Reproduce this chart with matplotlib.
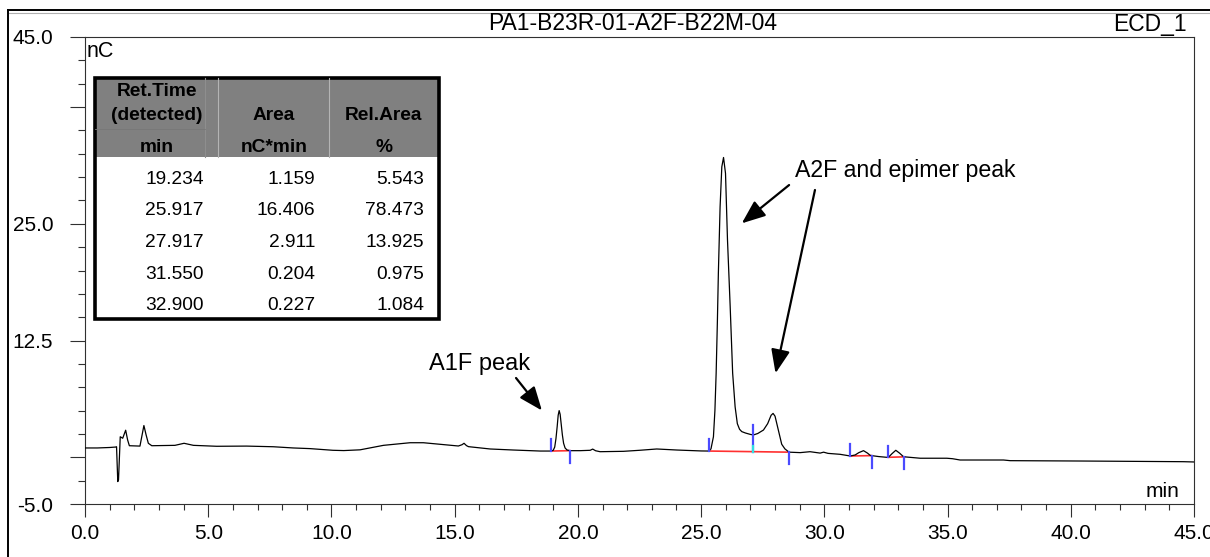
import matplotlib
matplotlib.use("Agg")
import matplotlib.pyplot as plt
from matplotlib.lines import Line2D
from matplotlib.patches import Rectangle
from matplotlib.ticker import FixedLocator, FixedFormatter, MultipleLocator

plt.rcParams['font.family'] = ['Liberation Sans', 'DejaVu Sans']

# ---------------- data ----------------
time_min = [0.0, 0.5, 1.0, 1.25, 1.28, 1.33, 1.36, 1.43, 1.53, 1.65, 1.73, 1.80,
            2.23, 2.33, 2.39, 2.48, 2.57, 2.71, 3.65, 4.02, 4.40, 5.34, 6.56, 7.64,
            8.45, 9.13, 9.80, 10.06, 10.50, 11.16, 12.11, 13.19, 13.73, 14.41, 15.15,
            15.30, 15.38, 15.48, 15.56, 16.44, 17.38, 18.47, 18.91,
            19.00, 19.06, 19.11, 19.16, 19.20, 19.24, 19.28, 19.32, 19.37, 19.42,
            19.48, 19.56, 19.68, 20.09, 20.50, 20.60, 20.72, 20.90, 21.85, 22.50,
            23.20, 24.01, 25.00, 25.31,
            25.40, 25.50, 25.56, 25.61, 25.66, 25.70, 25.77, 25.84, 25.91, 25.99,
            26.07, 26.18, 26.28, 26.38, 26.47, 26.56, 26.65, 26.80, 27.00, 27.12,
            27.30, 27.53, 27.70, 27.84, 27.92, 28.00, 28.10, 28.20, 28.27, 28.40,
            28.54, 28.57, 29.02, 29.15, 29.42, 29.83, 29.97, 30.15, 30.64, 31.05,
            31.25, 31.40, 31.59, 31.75, 31.86, 31.92, 32.20, 32.53, 32.60,
            32.75, 32.90, 33.05, 33.21, 33.25, 33.89, 34.97, 35.20, 35.51, 37.27,
            37.54, 40.52, 44.57, 45.0]
signal_nC = [1.00, 1.00, 1.05, 1.10, 1.13, -2.60, -2.40, 2.20, 2.04, 2.90, 1.85, 1.24,
             1.20, 2.57, 3.40, 2.39, 1.50, 1.24, 1.28, 1.50, 1.28, 1.18, 1.20, 1.13,
             1.00, 0.93, 0.80, 0.75, 0.72, 0.80, 1.28, 1.56, 1.56, 1.39, 1.21,
             1.35, 1.50, 1.25, 1.14, 0.89, 0.78, 0.67, 0.67,
             0.75, 1.10, 2.00, 3.30, 4.50, 5.00, 4.60, 3.60, 2.40, 1.50,
             1.00, 0.78, 0.71, 0.71, 0.75, 0.88, 0.70, 0.60, 0.64, 0.75,
             0.89, 0.78, 0.68, 0.67,
             0.90, 2.20, 5.00, 9.00, 14.50, 19.70, 26.80, 31.10, 32.10, 30.40,
             23.30, 16.10, 9.00, 5.40, 3.60, 3.00, 2.75, 2.60, 2.45, 2.39,
             2.55, 2.92, 3.60, 4.50, 4.70, 4.40, 3.30, 2.20, 1.40, 0.90,
             0.60, 0.55, 0.50, 0.53, 0.60, 0.45, 0.55, 0.42, 0.32, 0.14,
             0.25, 0.50, 0.71, 0.45, 0.21, 0.18, 0.08, 0.00, 0.00,
             0.40, 0.75, 0.45, 0.07, 0.05, -0.10, -0.10, -0.15, -0.29, -0.29,
             -0.36, -0.40, -0.47, -0.50]

# integration baselines (start/end times and baseline levels)
int_start_t = [18.91, 25.31, 31.05, 32.60]
int_start_y = [0.67, 0.67, 0.14, 0.00]
int_end_t = [19.68, 28.57, 31.92, 33.25]
int_end_y = [0.71, 0.55, 0.18, 0.05]
split_t = 27.12
split_y0 = 0.60
split_y1 = 3.50

# peak table
ret_time = [19.234, 25.917, 27.917, 31.550, 32.900]
area = [1.159, 16.406, 2.911, 0.204, 0.227]
rel_area = [5.543, 78.473, 13.925, 0.975, 1.084]

y_major = [-5.0, 0.0, 12.5, 25.0, 37.5, 45.0]
y_major_labels = ['-5.0', '', '12.5', '25.0', '', '45.0']
x_major = [0, 5, 10, 15, 20, 25, 30, 35, 40, 45]

# ---------------- figure ----------------
W, H = 1210, 557
fig = plt.figure(figsize=(W / 100, H / 100), dpi=100)
ax = fig.add_axes([85 / W, 53 / H, 1109 / W, 467 / H])
ax.set_xlim(0, 45)
ax.set_ylim(-5, 45)

for s in ax.spines.values():
    s.set_linewidth(0.8)
    s.set_color('#303030')

ax.xaxis.set_major_locator(FixedLocator(x_major))
ax.xaxis.set_major_formatter(FixedFormatter([f"{v:.1f}" for v in x_major]))
ax.xaxis.set_minor_locator(MultipleLocator(1.0))
ax.yaxis.set_major_locator(FixedLocator(y_major))
ax.yaxis.set_major_formatter(FixedFormatter(y_major_labels))
ax.yaxis.set_minor_locator(MultipleLocator(2.5))

ax.tick_params(axis='x', which='major', direction='out', length=9.4, width=0.8,
               color='#303030', labelsize=15, pad=5)
ax.tick_params(axis='x', which='minor', direction='out', length=4.3, width=0.8,
               color='#303030')
ax.tick_params(axis='y', which='major', direction='out', length=10.8, width=0.8,
               color='#303030', labelsize=15, pad=12)
ax.tick_params(axis='y', which='minor', direction='out', length=5.0, width=0.8,
               color='#303030')

# chromatogram trace
ax.plot(time_min, signal_nC, color='black', lw=0.9, zorder=3)

# integration baselines and delimiters
for ts, ys, te, ye in zip(int_start_t, int_start_y, int_end_t, int_end_y):
    ax.plot([ts, te], [ys, ye], color='#ff3030', lw=1.2, zorder=2)
    ax.plot([ts, ts], [ys, ys + 1.25], color='#4a4aff', lw=1.6, zorder=4)
    ax.plot([te, te], [ye, ye - 1.3], color='#4a4aff', lw=1.6, zorder=4)
ax.plot([split_t, split_t], [split_y0, split_y1], color='#4a4aff', lw=1.6, zorder=4)
ax.plot([split_t, split_t], [split_y0, split_y0 + 0.6], color='#30e0e0', lw=1.6, zorder=4)

# axis unit labels
ax.text(0.0015, 0.968, 'nC', transform=ax.transAxes, ha='left', va='center', fontsize=15.5)
ax.text(0.9865, 0.026, 'min', transform=ax.transAxes, ha='right', va='center', fontsize=15)

# annotations
arrow_kw = dict(arrowstyle='-|>,head_length=0.8,head_width=0.32', color='black',
                lw=1.6, mutation_scale=18, shrinkA=0, shrinkB=0)
ax.annotate('', xy=(18.54, 5.01), xytext=(17.49, 8.49), arrowprops=arrow_kw)
ax.annotate('', xy=(26.65, 25.05), xytext=(28.57, 29.15), arrowprops=arrow_kw)
ax.annotate('', xy=(28.02, 9.0), xytext=(29.62, 28.62), arrowprops=arrow_kw)
ax.text(15.99, 9.99, 'A1F peak', ha='center', va='center', fontsize=17)
ax.text(33.27, 30.76, 'A2F and epimer peak', ha='center', va='center', fontsize=16.7)

# header texts
fig.text(633 / W, 1 - 24 / H, 'PA1-B23R-01-A2F-B22M-04', ha='center', va='center',
         fontsize=16.5)
fig.text(1187 / W, 1 - 25 / H, 'ECD_1', ha='right', va='center', fontsize=16.5)

# outer frame
fig.add_artist(Line2D([8 / W, 1], [1 - 10 / H, 1 - 10 / H], color='black', lw=1.4,
                      transform=fig.transFigure))
fig.add_artist(Line2D([9 / W, 1], [1 - 12.8 / H, 1 - 12.8 / H], color='#b0b0b0', lw=0.8,
                      transform=fig.transFigure))
fig.add_artist(Line2D([8 / W, 8 / W], [0, 1 - 10 / H], color='black', lw=1.4,
                      transform=fig.transFigure))

# ---------------- peak table ----------------
tx0, tx1, ty0, ty1 = 91, 443, 73, 323
tax = fig.add_axes([tx0 / W, 1 - ty1 / H, (tx1 - tx0) / W, (ty1 - ty0) / H])
tax.set_xlim(tx0, tx1)
tax.set_ylim(ty1, ty0)
tax.axis('off')
tax.add_patch(Rectangle((95, 78), 344, 241, facecolor='white', edgecolor='none'))
tax.add_patch(Rectangle((95, 78), 344, 79, facecolor='#808080', edgecolor='none'))
tax.plot([205, 205], [78, 157], color='#8e8e8e', lw=0.8)
tax.plot([218, 218], [78, 157], color='#b4b4b4', lw=0.8)
tax.plot([329, 329], [78, 157], color='#b4b4b4', lw=0.8)
tax.plot([95, 205], [129, 129], color='#777777', lw=0.6)
tax.add_patch(Rectangle((95, 78), 344, 241, facecolor='none', edgecolor='black', lw=2.6))

hdr = dict(ha='center', va='center', fontsize=13.8, fontweight='bold', color='black')
tax.text(157, 92, 'Ret.Time', **hdr)
tax.text(157, 115.5, '(detected)', **hdr)
tax.text(274, 115.5, 'Area', **hdr)
tax.text(383.5, 115.5, 'Rel.Area', **hdr)
tax.text(157, 147, 'min', **hdr)
tax.text(274, 147, 'nC*min', **hdr)
tax.text(384, 147, '%', **hdr)

row_y = [179, 210.7, 242.3, 274.3, 306]
for yy, rt, ar, ra in zip(row_y, ret_time, area, rel_area):
    tax.text(204, yy, f"{rt:.3f}", ha='right', va='center', fontsize=13.8)
    tax.text(315, yy, f"{ar:.3f}", ha='right', va='center', fontsize=13.8)
    tax.text(424, yy, f"{ra:.3f}", ha='right', va='center', fontsize=13.8)

fig.savefig('out.png', dpi=100)
